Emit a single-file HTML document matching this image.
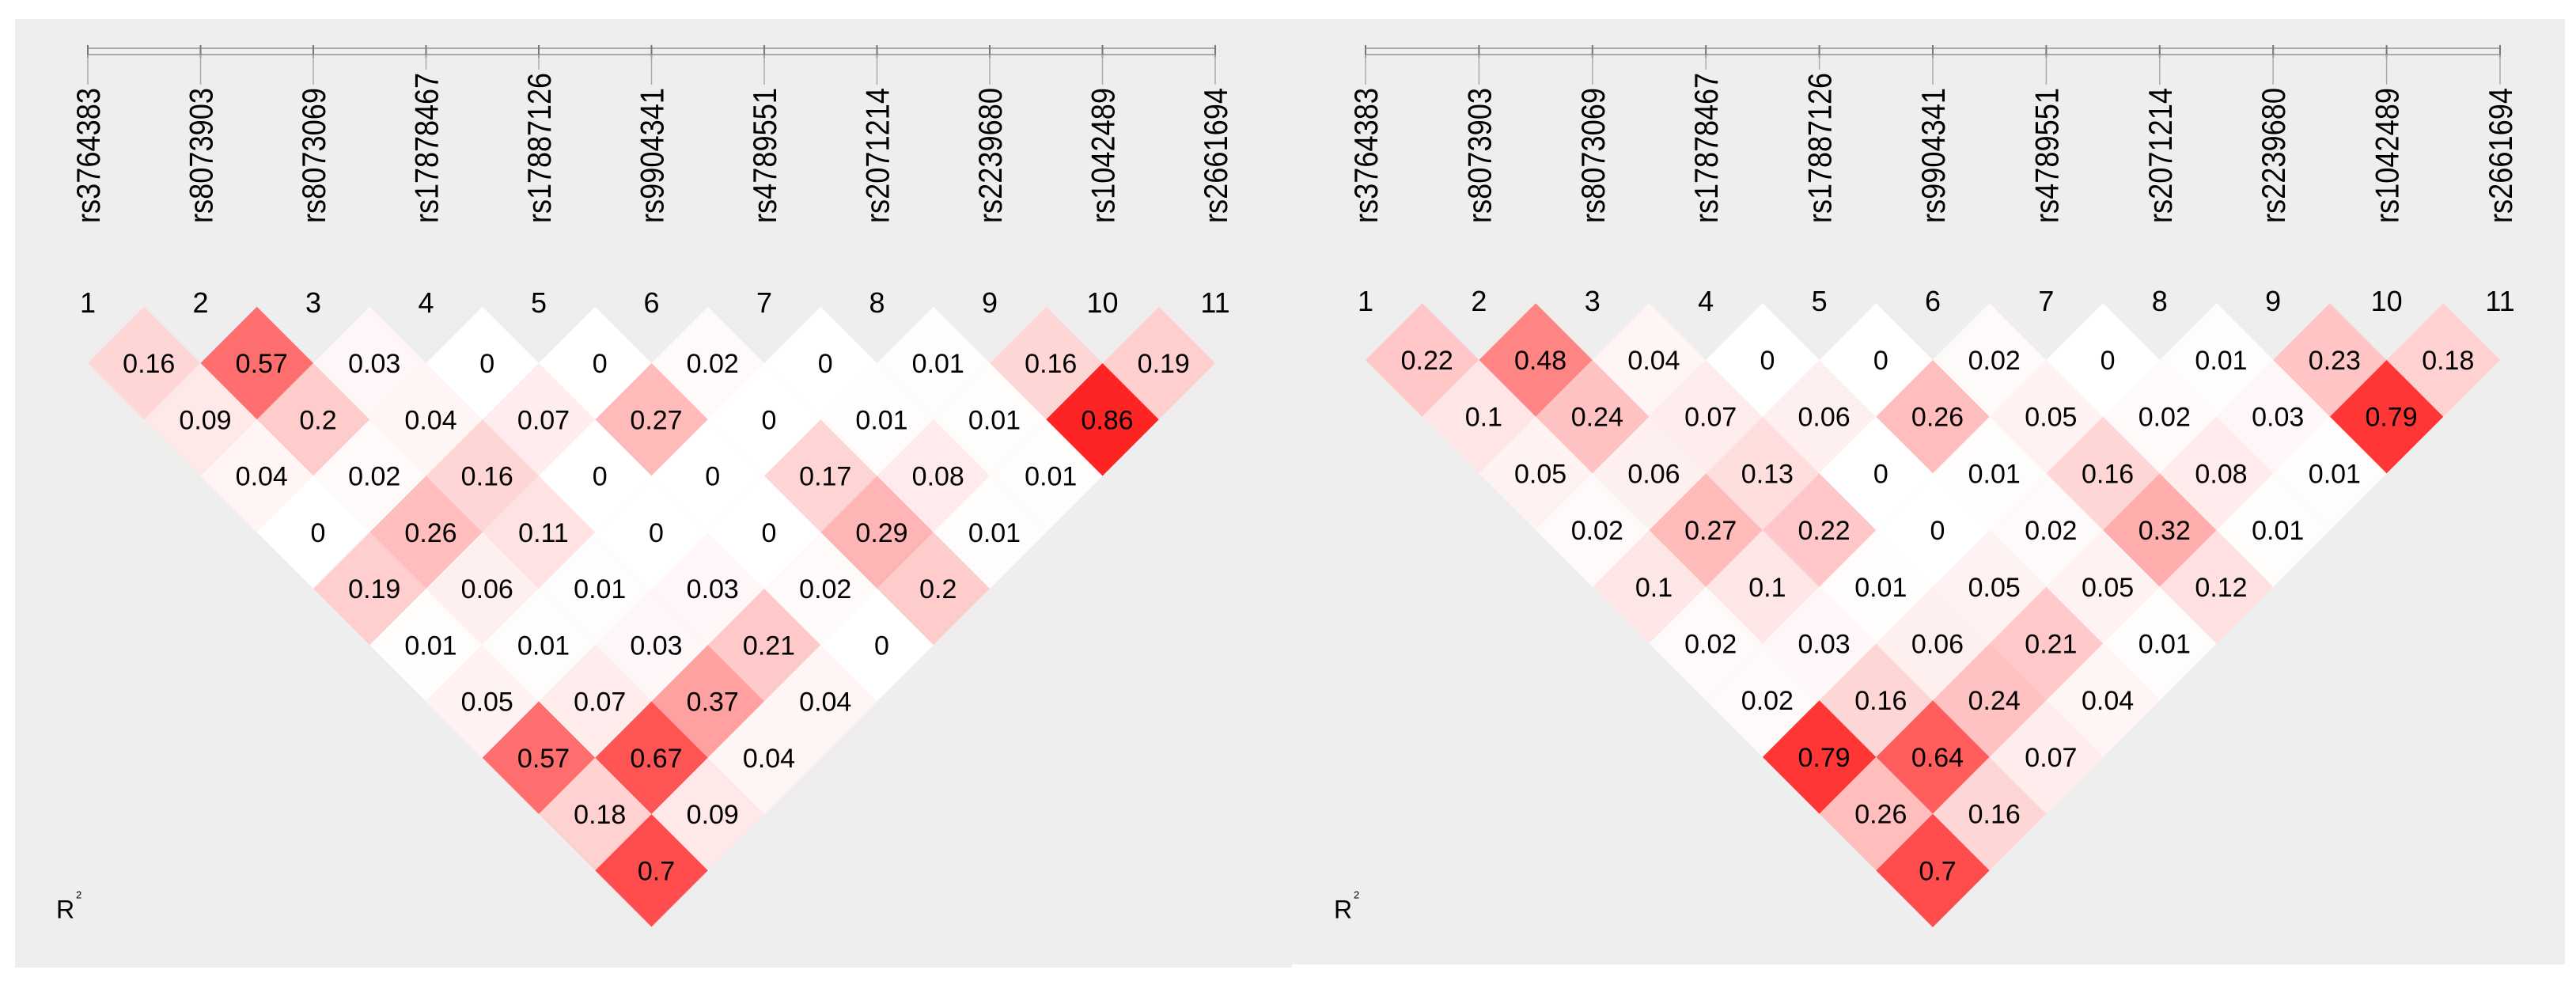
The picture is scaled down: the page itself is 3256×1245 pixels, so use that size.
<!DOCTYPE html>
<html><head><meta charset="utf-8"><style>
html,body{margin:0;padding:0;background:#fff;}
svg{display:block;}
text{font-family:"Liberation Sans",sans-serif;}
</style></head><body>
<svg id="chart" width="3256" height="1245" xmlns="http://www.w3.org/2000/svg">
<rect x="19" y="24" width="1614" height="1199" fill="#eeeeee"/>
<rect x="1632" y="24" width="1610" height="1195" fill="#eeeeee"/>
</svg>
<script>
const snps = ["rs3764383","rs8073903","rs8073069","rs17878467","rs17887126","rs9904341","rs4789551","rs2071214","rs2239680","rs1042489","rs2661694"];
const leftRows = [
[0.16,0.57,0.03,0,0,0.02,0,0.01,0.16,0.19],
[0.09,0.2,0.04,0.07,0.27,0,0.01,0.01,0.86],
[0.04,0.02,0.16,0,0,0.17,0.08,0.01],
[0,0.26,0.11,0,0,0.29,0.01],
[0.19,0.06,0.01,0.03,0.02,0.2],
[0.01,0.01,0.03,0.21,0],
[0.05,0.07,0.37,0.04],
[0.57,0.67,0.04],
[0.18,0.09],
[0.7]
];
const rightRows = [
[0.22,0.48,0.04,0,0,0.02,0,0.01,0.23,0.18],
[0.1,0.24,0.07,0.06,0.26,0.05,0.02,0.03,0.79],
[0.05,0.06,0.13,0,0.01,0.16,0.08,0.01],
[0.02,0.27,0.22,0,0.02,0.32,0.01],
[0.1,0.1,0.01,0.05,0.05,0.12],
[0.02,0.03,0.06,0.21,0.01],
[0.02,0.16,0.24,0.04],
[0.79,0.64,0.07],
[0.26,0.16],
[0.7]
];
const NS="http://www.w3.org/2000/svg";
const svg=document.getElementById('chart');
function mk(tag,attrs,parent){const e=document.createElementNS(NS,tag);for(const k in attrs)e.setAttribute(k,attrs[k]);(parent||svg).appendChild(e);return e;}
function fmt(v){return String(v);}
function panel(name,x0,S,axisY,rowY,numY,rows){
  const g=mk('g',{});
  
  
  const n=snps.length;
  const xOf=i=>x0+i*S;
  const ax=mk('rect',{x:xOf(0),y:axisY,width:xOf(n-1)-xOf(0),height:8,fill:'none',stroke:'#aaaaaa','stroke-width':2},g);
  
  
  snps.forEach((s,i)=>{
    const x=xOf(i);
    const t=mk('line',{x1:x,y1:axisY-4,x2:x,y2:axisY+12,stroke:'#777',"stroke-width":2},g);
    
    
    const l=mk('line',{x1:x,y1:axisY+8,x2:x,y2:282-s.length*19-4,stroke:'#aaaaaa',"stroke-width":1.5},g);
    
    
    const tx=mk('text',{x:0,y:0,transform:`translate(${x+15},282) rotate(-90)`,'font-size':42,textLength:s.length*19,lengthAdjust:'spacingAndGlyphs',fill:'#000'},g);
    tx.textContent=s;
    
    
    const nu=mk('text',{x:x,y:numY+13,'text-anchor':'middle','font-size':36,fill:'#000'},g);
    nu.textContent=String(i+1);
    
    
  });
  rows.forEach((row,di)=>{
    const d=di+1;
    row.forEach((v,i)=>{
      const cx=x0+(i+d/2)*S, cy=rowY+di*S/2, h=S/2;
      const c=Math.round(255*(1-v));
      const p=mk('polygon',{points:`${cx},${cy-h} ${cx+h},${cy} ${cx},${cy+h} ${cx-h},${cy}`,fill:`rgb(255,${c},${c})`},g);
      
      
    });
  });
  rows.forEach((row,di)=>{
    const d=di+1;
    row.forEach((v,i)=>{
      const cx=x0+(i+d/2)*S, cy=rowY+di*S/2;
      const t=mk('text',{x:cx+6,y:cy+12,'text-anchor':'middle','font-size':34,fill:'#000'},g);
      t.textContent=fmt(v);
      
      
    });
  });
  const r=mk('text',{x:x0-40,y:rowY+9*S/2+60,'font-size':32,fill:'#000'},g);
  r.textContent='R';
  
  
  const r2=mk('text',{x:x0-15,y:rowY+9*S/2+35,'font-size':13,fill:'#000'},g);
  r2.textContent='2';
  
  
}
panel('left-ld-panel',111,142.5,61,459,382,leftRows);
panel('right-ld-panel',1726,143.4,61,455,380,rightRows);
</script>
</body></html>
